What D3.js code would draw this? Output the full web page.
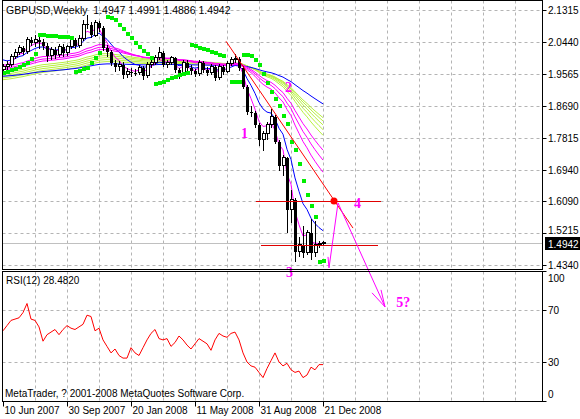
<!DOCTYPE html>
<html><head><meta charset="utf-8">
<script src="https://cdn.jsdelivr.net/npm/d3@7"></script>
<style>body{margin:0;background:#fff}svg{display:block}text{font-family:"Liberation Sans",Arial,sans-serif}</style>
</head><body><svg id="c" width="580" height="419"></svg>
<script>
const firstOpen = 1.968;
const closes = [1.9757,1.9811,2.0030,2.0139,2.0276,2.0167,2.0495,2.0413,2.0495,2.0440,
2.0331,2.0057,2.0221,2.0085,2.0303,2.0139,2.0303,2.0495,2.0331,2.0522,
2.0932,2.0905,2.0631,2.0960,2.0823,2.0276,2.0167,1.9866,1.9757,1.9811,
1.9538,1.9620,1.9593,1.9593,1.9729,1.9511,1.9811,1.9866,2.0003,2.0139,
1.9811,1.9866,2.0003,1.9675,1.9538,1.9866,1.9729,1.9647,1.9565,1.9866,
1.9675,1.9593,1.9757,1.9456,1.9757,1.9620,1.9839,1.9948,1.9975,1.9729,
1.9210,1.8526,1.8499,1.8171,1.7761,1.7925,1.8171,1.8390,1.7706,1.7050,
1.7269,1.5847,1.6120,1.4699,1.4890,1.4671,1.5218,1.4671,1.4890,1.4917,1.4942];
const highs = [1.985,1.992,2.012,2.025,2.037,2.034,2.058,2.059,2.062,2.057,
2.051,2.040,2.030,2.031,2.039,2.038,2.037,2.058,2.056,2.064,
2.104,2.118,2.098,2.104,2.101,2.088,2.036,2.022,1.996,1.992,
1.988,1.972,1.973,1.970,1.982,1.979,1.990,1.996,2.008,2.030,
2.019,1.995,2.007,2.004,1.972,1.994,1.994,1.980,1.970,1.996,
1.992,1.975,1.985,1.980,1.983,1.982,1.993,2.003,2.010,2.004,
1.978,1.925,1.870,1.856,1.822,1.801,1.825,1.862,1.845,1.775,
1.735,1.730,1.640,1.616,1.510,1.540,1.530,1.560,1.555,1.500,1.4991];
const lows = [1.962,1.968,1.976,1.998,2.008,2.009,2.012,2.033,2.030,2.026,
2.022,1.990,1.996,1.998,2.002,2.004,2.006,2.024,2.025,2.027,
2.046,2.080,2.055,2.057,2.072,2.020,2.003,1.977,1.962,1.966,
1.942,1.946,1.948,1.950,1.953,1.941,1.946,1.972,1.980,1.994,
1.975,1.972,1.980,1.960,1.944,1.950,1.965,1.955,1.948,1.950,
1.960,1.951,1.953,1.938,1.940,1.955,1.958,1.978,1.987,1.966,
1.915,1.845,1.838,1.810,1.760,1.745,1.775,1.810,1.765,1.690,
1.678,1.522,1.550,1.443,1.455,1.452,1.460,1.448,1.455,1.480,1.4886];
// parabolic SAR: [bar, price]
const sar = [[0,1.9620],[1,1.9647],[2,1.9702],[3,1.9729],[4,1.9784],[5,1.9839],[6,1.9893],[7,2.0003],[8,2.0139],
[9,2.0659],[10,2.0659],[11,2.0631],[12,2.0631],[13,2.0631],[14,2.0604],[15,2.0604],[16,2.0604],[17,2.0577],
[18,1.9647],[19,1.9675],[20,1.9729],[21,1.9757],[22,1.9893],[23,2.0030],[24,2.0167],
[26,2.1151],[27,2.1124],[28,2.1069],[29,2.0932],[30,2.0823],[31,2.0686],[32,2.0577],[33,2.0440],[34,2.0331],[35,2.0221],[36,2.0139],[37,2.0030],
[38,1.9319],[39,1.9347],[40,1.9374],[41,1.9429],[42,1.9483],[43,1.9511],[44,1.9565],[45,1.9593],[46,1.9620],
[47,2.0385],[48,2.0358],[49,2.0303],[50,2.0276],[51,2.0249],[52,2.0194],[53,2.0167],[54,2.0112],[55,2.0085],
[57,1.9374],[58,1.9374],[59,1.9374],
[60,2.0112],[61,2.0112],[62,2.0085],[63,1.9975],[64,1.9839],[65,1.9593],[66,1.9347],[67,1.9101],[68,1.8909],[69,1.8718],
[70,1.8444],[71,1.8226],[72,1.7733],[73,1.7515],[74,1.7132],[75,1.6667],[76,1.6284],[77,1.5984],[78,1.5683],[79,1.4453],[80,1.4480]];
const rsi = [54,58,62,63,64,68,75,63,62,57,46,51,53,55,51,55,58,56,55,57,
59,66,65,54,56,47,42,37,40,35,33,33,41,37,35,41,47,52,55,48,
47,48,42,45,50,47,43,40,44,48,46,44,39,47,52,50,49,52,53,47,
37,30,27,26,22,18,25,31,37,30,27,29,24,22,23,18,20,26,24,28,28];
const maMagenta = [[4,1.985],[28,1.978],[34,1.972],[40,1.968]];
const maBlue = [[9,2.000],[110,1.950]];
const maLime = [[52,1.960],[58,1.955],[64,1.950],[70,1.945],[76,1.940]];
const priceTicks = [2.1315,2.0440,1.9565,1.8690,1.7815,1.6940,1.6090,1.5215,1.4340];
const rsiTicks = [100,70,30,0];
const dateLabels = [[0,"10 Jun 2007"],[16,"30 Sep 2007"],[32,"20 Jan 2008"],[48,"11 May 2008"],[64,"31 Aug 2008"],[80,"21 Dec 2008"]];
const lastPrice = 1.4942;
const trendLine = [[55.75,2.046],[87.5,1.535]];
const hLines = [[63.25,94.5,1.609],[64.5,93.75,1.489]];
const redDot = [82.75,1.609];
const wavePath = [[81.25,1.4562],[81.5,1.4261],[83.75,1.6038],[95.5,1.3195]];
const arrowHead = [[92.25,1.3578],[95.5,1.3195],[94.5,1.3660]];
const waveLabels = [[59.5,1.7825,"1"],[70.5,1.9075,"2"],[70.75,1.4013,"3"],[87.75,1.5905,"4"],[98.3,1.3200,"5?"]];

const svg = d3.select("#c");
const L=2.5,R=542.5,T=0.5,B=269.5,RT=271.5,RB=401.5;
const x = d3.scaleLinear().domain([0,135]).range([3,543]);
const y = d3.scaleLinear().domain([1.4340,2.1315]).range([265,10]);
const yr = d3.scaleLinear().domain([0,100]).range([401,271]);
const gridC="#b4b4b4";
const FS=10;
const gx=d3.range(8,136,8);
[[T,B],[RT,RB]].forEach(([a,b])=>{
  svg.append("g").selectAll("line").data(gx).join("line")
   .attr("x1",d=>Math.round(x(d))+0.5).attr("x2",d=>Math.round(x(d))+0.5).attr("y1",a).attr("y2",b)
   .attr("stroke",gridC).attr("stroke-dasharray","3,3");
});
svg.append("g").selectAll("line").data(priceTicks).join("line")
  .attr("x1",L).attr("x2",R).attr("y1",d=>Math.round(y(d))+0.5).attr("y2",d=>Math.round(y(d))+0.5)
  .attr("stroke",gridC).attr("stroke-dasharray","3,3");
svg.append("g").selectAll("line").data([70,30]).join("line")
  .attr("x1",L).attr("x2",R).attr("y1",d=>Math.round(yr(d))+0.5).attr("y2",d=>Math.round(yr(d))+0.5)
  .attr("stroke",gridC).attr("stroke-dasharray","3,3");
svg.append("line").attr("x1",L).attr("x2",R).attr("y1",Math.round(y(lastPrice))+0.5).attr("y2",Math.round(y(lastPrice))+0.5).attr("stroke","#c0c0c0");
function ema(period,seed){const k=2/(period+1);let v=seed;return closes.map(c=>(v=v+k*(c-v)));}
const line=d3.line().x((d,i)=>x(i)).y(d=>y(d));
function drawMAs(list,col){list.forEach(([p,s])=>svg.append("path").attr("d",line(ema(p,s))).attr("fill","none").attr("stroke",col).attr("stroke-width",1));}
drawMAs(maLime,"#b8f040");
drawMAs(maBlue,"#0000ff");
drawMAs(maMagenta,"#ff00ff");
const opens = closes.map((c,i)=>i?closes[i-1]:firstOpen);
const cg=svg.append("g").attr("shape-rendering","crispEdges");
closes.forEach((c,i)=>{
  const cx=Math.round(x(i))+0.5;
  cg.append("line").attr("x1",cx).attr("x2",cx).attr("y1",y(highs[i])).attr("y2",y(lows[i])).attr("stroke","#000");
  const top=Math.min(y(opens[i]),y(c)),h=Math.max(1,Math.abs(y(opens[i])-y(c)));
  const up=c>opens[i];
  cg.append("rect").attr("x",cx-1.5).attr("y",top).attr("width",3).attr("height",h)
    .attr("fill",up?"#fff":"#000").attr("stroke","#000").attr("stroke-width",up?1:0);
});
svg.append("g").attr("shape-rendering","crispEdges").selectAll("rect").data(sar).join("rect")
  .attr("x",d=>Math.round(x(d[0]))-1.5).attr("y",d=>Math.round(y(d[1]))-1.5).attr("width",4).attr("height",4).attr("fill","#00ee00");
svg.append("line").attr("x1",x(trendLine[0][0])).attr("y1",y(trendLine[0][1])).attr("x2",x(trendLine[1][0])).attr("y2",y(trendLine[1][1])).attr("stroke","#ff0000");
hLines.forEach(([a,b,p])=>svg.append("line").attr("x1",x(a)).attr("x2",x(b)).attr("y1",Math.round(y(p))+0.5).attr("y2",Math.round(y(p))+0.5).attr("stroke","#e00000"));
svg.append("circle").attr("cx",x(redDot[0])).attr("cy",y(redDot[1])).attr("r",3.5).attr("fill","#ff0000");
const pl=d3.line().x(d=>x(d[0])).y(d=>y(d[1]));
svg.append("path").attr("d",pl(wavePath)).attr("fill","none").attr("stroke","#ff00ff");
svg.append("path").attr("d",pl(arrowHead)).attr("fill","none").attr("stroke","#ff00ff");
svg.append("g").selectAll("text").data(waveLabels).join("text")
  .attr("x",d=>x(d[0])).attr("y",d=>y(d[1])).text(d=>d[2])
  .attr("fill","#ff00ff").attr("font-weight","bold").attr("font-size",14).style("font-family","'Liberation Serif',serif");
svg.append("path").attr("d",d3.line().x((d,i)=>x(i)).y(d=>yr(d))(rsi)).attr("fill","none").attr("stroke","#ff0000");
svg.append("rect").attr("x",L).attr("y",T).attr("width",R-L).attr("height",B-T).attr("fill","none").attr("stroke","#000");
svg.append("rect").attr("x",L).attr("y",RT).attr("width",R-L).attr("height",RB-RT).attr("fill","none").attr("stroke","#000");
const ax=svg.append("g").attr("font-size",FS);
const labelY={};priceTicks.forEach(p=>labelY[p]=y(p));labelY[1.5215]=y(1.5215)-3;
priceTicks.forEach(p=>{
  const yy=Math.round(y(p))+0.5;
  ax.append("line").attr("x1",R).attr("x2",R+4).attr("y1",yy).attr("y2",yy).attr("stroke","#000");
  ax.append("text").attr("x",548).attr("y",labelY[p]+4).text(p.toFixed(4));
});
rsiTicks.forEach(v=>{
  const yy=Math.round(yr(v))+0.5;
  ax.append("line").attr("x1",R).attr("x2",R+4).attr("y1",yy).attr("y2",yy).attr("stroke","#000");
  ax.append("text").attr("x",548).attr("y",Math.min(Math.max(yr(v)+4,282),398)).text(v);
});
svg.append("rect").attr("x",545).attr("y",237).attr("width",35).attr("height",13).attr("fill","#000");
svg.append("text").attr("x",548).attr("y",247.5).attr("fill","#fff").attr("font-size",FS).text(lastPrice.toFixed(4));
dateLabels.forEach(([b,t])=>{
  const xx=Math.round(x(b))+0.5;
  svg.append("line").attr("x1",xx).attr("x2",xx).attr("y1",RB).attr("y2",RB+5).attr("stroke","#000");
  svg.append("text").attr("x",xx+1).attr("y",414).attr("font-size",FS).text(t);
});
svg.append("text").attr("x",6).attr("y",14).attr("font-size",FS+0.5).text("GBPUSD,Weekly  1.4947 1.4991 1.4886 1.4942").style("white-space","pre");
svg.append("text").attr("x",6).attr("y",284).attr("font-size",FS).text("RSI(12) 28.4820");
svg.append("text").attr("x",5).attr("y",397).attr("font-size",FS).text("MetaTrader, ? 2001-2008 MetaQuotes Software Corp.");
</script></body></html>
